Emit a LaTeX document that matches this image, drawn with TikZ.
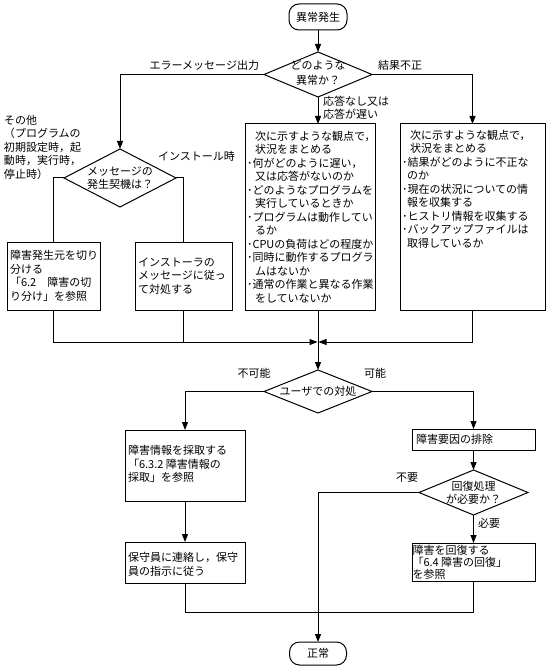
\documentclass[tikz,border=0pt]{standalone}
\usepackage{fontspec}
\setmainfont{Noto Sans CJK JP}
\usetikzlibrary{arrows.meta}
\newcommand\myind{\hspace*{8pt}}
\newcommand\myhalf{\hspace*{5pt}}
\begin{document}
\begin{tikzpicture}[x=1pt,y=-1pt,line width=1pt,
  every node/.style={inner sep=0pt, outer sep=0pt},
  txt/.style={font=\fontsize{11}{13.5}\selectfont, align=left},
  boxnode/.style={draw, rectangle},
  term/.style={draw, rectangle, rounded corners=10pt, font=\fontsize{11}{13.5}\selectfont},
  decision/.style={rectangle, align=center, font=\fontsize{11}{13}\selectfont},
  arr/.style={-{Triangle[length=8pt,width=6pt]}},
]
\useasboundingbox (0,0) rectangle (554,668);

% terminals
\node[term, minimum width=58, minimum height=26] (start) at (318,17) {異常発生};
\node[term, minimum width=57, minimum height=23] (end) at (318,653.5) {正常};

% decisions
\node[decision, minimum width=108, minimum height=45] (d1) at (318,74.5) {};
\node[decision, font=\fontsize{11}{15}\selectfont] (d1t) at (318,72.5) {どのような\\異常か？};
\node[decision, minimum width=112, minimum height=58] (d2) at (120,178) {メッセージの\\発生契機は？};
\node[decision, minimum width=108, minimum height=43] (d3) at (318,391.5) {ユーザでの対処};
\node[decision, minimum width=109, minimum height=45] (d4) at (473.5,492.5) {回復処理\\が必要か？};
\foreach \d in {d1,d2,d3,d4}
  \draw (\d.north) -- (\d.east) -- (\d.south) -- (\d.west) -- cycle;

% boxes
\node[boxnode, minimum width=93,  minimum height=68]  (bleft)    at (53.5,276) {};
\node[boxnode, minimum width=97,  minimum height=68]  (binst)    at (183.5,276) {};
\node[boxnode, minimum width=130, minimum height=186] (bmid)     at (310,217) {};
\node[boxnode, minimum width=145, minimum height=186] (bright)   at (472.5,217) {};
\node[boxnode, minimum width=120, minimum height=71]  (binfo)    at (185,465.5) {};
\node[boxnode, minimum width=120, minimum height=41]  (bmaint)   at (185,562.5) {};
\node[boxnode, minimum width=123, minimum height=21]  (bremove)  at (473.5,439.5) {};
\node[boxnode, minimum width=123, minimum height=38]  (brecover) at (473.5,562) {};

% box texts
\node[txt, anchor=west] (bleftt) at ([xshift=3pt]bleft.west)
  {障害発生元を切り\\分ける\\「6.2　障害の切\\り分け」を参照};
\node[txt, anchor=west] (binstt) at ([xshift=3pt]binst.west)
  {インストーラの\\メッセージに従っ\\て対処する};
\node[txt, anchor=west] (bmidt) at ([xshift=2pt]bmid.west)
  {\myind 次に示すような観点で，\\
   \myind 状況をまとめる\\
   ･何がどのように遅い，\\
   \myind 又は応答がないのか\\
   ･どのようなプログラムを\\
   \myind 実行しているときか\\
   ･プログラムは動作してい\\
   \myind るか\\
   ･CPUの負荷はどの程度か\\
   ･同時に動作するプログラ\\
   \myind ムはないか\\
   ･通常の作業と異なる作業\\
   \myind をしていないか};
\node[txt, anchor=north west] (brightt) at ([shift={(2pt,-6pt)}]bright.north west)
  {\myind 次に示すような観点で，\\
   \myind 状況をまとめる\\
   ･結果がどのように不正な\\
   \myhalf のか\\
   ･現在の状況についての情\\
   \myhalf 報を収集する\\
   ･ヒストリ情報を収集する\\
   ･バックアップファイルは\\
   \myhalf 取得しているか};
\node[txt, anchor=west] (binfot) at ([shift={(3pt,1.5pt)}]binfo.west)
  {障害情報を採取する\\「6.3.2 障害情報の\\採取」を参照};
\node[txt, anchor=west] (bmaintt) at ([shift={(3pt,-2pt)}]bmaint.west)
  {保守員に連絡し，保守\\員の指示に従う};
\node[txt, anchor=west] (bremovet) at ([xshift=4pt]bremove.west) {障害要因の排除};
\node[txt, anchor=west, font=\fontsize{11}{12}\selectfont] (brecovert) at ([xshift=0.5pt]brecover.west)
  {障害を回復する\\「6.4 障害の回復」\\を参照};

% free text and labels
\node[txt, anchor=west] (other) at (4,147)
  {その他\\（プログラムの\\初期設定時，起\\動時，実行時，\\停止時）};
\node[txt, anchor=east] (lerr) at (259,65) {エラーメッセージ出力};
\node[txt, anchor=west] (lbad) at (378,65) {結果不正};
\node[txt, anchor=west] (lnoresp) at (323,107.5) {応答なし又は\\応答が遅い};
\node[txt, anchor=west] (linst) at (158,156) {インストール時};
\node[txt] (limp) at (254,373) {不可能};
\node[txt] (lpos) at (375,373) {可能};
\node[txt] (lnone) at (407,478) {不要};
\node[txt, anchor=west] (lneed) at (478,523) {必要};

% junction coordinates
\coordinate (m) at (318,342);
\coordinate (j) at (318,612);

% connectors
\draw[arr] (start) -- (d1.north);
\draw[arr] (d1.west) -| (d2.north);
\draw[arr] (d1.east) -| (bright.north);
\draw[arr] (d1.south) -- (d1.south |- bmid.north);
\draw (d2.west) -| (bleft.north);
\draw (d2.east) -| (binst.north);
\draw[arr, shorten >=0.5pt] (bleft.south) |- (m);
\draw (binst.south) -- (binst.south |- m);
\draw[arr, shorten >=0.5pt] (bright.south) |- (m);
\draw[arr] (m |- bmid.south) -- (d3.north);
\draw[arr] (d3.west) -| (binfo.north);
\draw[arr] (d3.east) -| (bremove.north);
\draw[arr] (binfo) -- (bmaint);
\draw[arr] (bremove) -- (d4.north);
\draw[arr] (d4.south) -- (brecover.north);
\draw[arr] (d4.west) -| (end.north);
\draw (bmaint.south) |- (j);
\draw (brecover.south) |- (j);
\end{tikzpicture}
\end{document}
